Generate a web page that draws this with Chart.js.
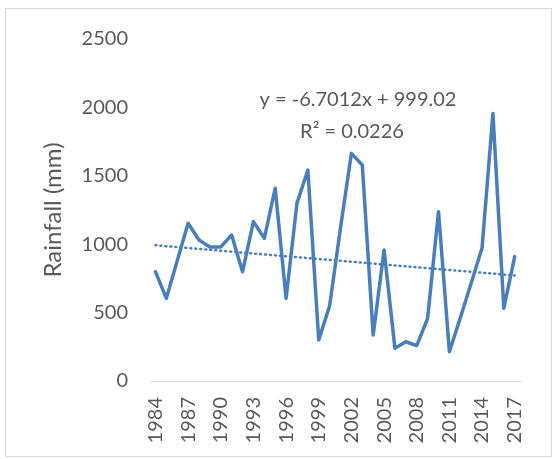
<!DOCTYPE html>
<html lang="en">
<head>
<meta charset="UTF-8">
<title>Rainfall</title>
<script src="https://cdn.jsdelivr.net/npm/chart.js"></script>
<style>
  html, body { margin: 0; padding: 0; background: #fff; }
  #box { width: 555px; height: 459px; }
</style>
</head>
<body>
<div id="box"><canvas id="rainChart" width="555" height="459"></canvas></div>
<script>
// data
const years = [1984, 1985, 1986, 1987, 1988, 1989, 1990, 1991, 1992, 1993, 1994, 1995,
  1996, 1997, 1998, 1999, 2000, 2001, 2002, 2003, 2004, 2005, 2006, 2007, 2008, 2009,
  2010, 2011, 2012, 2013, 2014, 2015, 2016, 2017];
const rainfall = [799, 604, 879, 1153, 1031, 980, 980, 1067, 799, 1165, 1043, 1409,
  604, 1300, 1542, 300, 550, 1120, 1664, 1579, 336, 958, 239, 287, 258, 458,
  1238, 214, 460, 715, 972, 1956, 531, 909];
const shownYears = [1984, 1987, 1990, 1993, 1996, 1999, 2002, 2005, 2008, 2011, 2014, 2017];
const yTicks = [0, 500, 1000, 1500, 2000, 2500];

// linear trend as printed on the chart (x = 1..n)
const trendSlope = -6.7012;
const trendIntercept = 999.02;
const trendText = ['y = -6.7012x + 999.02', 'R\u00B2 = 0.0226'];

const blue = '#4a7ebb';
const grey = '#595959';
const fontName = 'Lato, "Liberation Sans", sans-serif';

// only the two end points of the trend line
const trend = years.map((y, i) =>
  (i === 0 || i === years.length - 1) ? trendSlope * (i + 1) + trendIntercept : null);

// white background, light frame and the equation text
const frame = {
  id: 'frame',
  beforeDraw(chart) {
    const c = chart.ctx;
    c.save();
    c.fillStyle = '#fff';
    c.fillRect(0, 0, chart.width, chart.height);
    c.strokeStyle = '#d9d9d9';
    c.lineWidth = 1;
    c.strokeRect(5.5, 8.5, 546, 448);
    c.restore();
  },
  afterDraw(chart) {
    const c = chart.ctx;
    c.save();
    c.fillStyle = grey;
    c.font = '20px ' + fontName;
    c.textAlign = 'center';
    c.textBaseline = 'middle';
    c.fillText(trendText[0], 358, 100);
    c.fillText(trendText[1], 352, 132);
    c.restore();
  }
};

new Chart(document.getElementById('rainChart'), {
  type: 'line',
  data: {
    labels: years,
    datasets: [{
      data: rainfall,
      borderColor: blue,
      borderWidth: 3.5,
      pointRadius: 0,
      tension: 0,
      borderJoinStyle: 'round',
      borderCapStyle: 'round'
    }, {
      data: trend,
      spanGaps: true,
      borderColor: blue,
      borderWidth: 2.5,
      borderDash: [1, 4],
      borderCapStyle: 'round',
      pointRadius: 0
    }]
  },
  options: {
    responsive: false,
    animation: false,
    layout: { padding: { top: 39, right: 20, left: 0, bottom: 0 } },
    plugins: {
      legend: { display: false },
      tooltip: { enabled: false }
    },
    scales: {
      x: {
        offset: true,
        grid: { display: false, drawTicks: false },
        border: { display: true, color: '#d9d9d9', width: 1 },
        ticks: {
          autoSkip: false,
          maxRotation: 90,
          minRotation: 90,
          padding: 16,
          color: grey,
          font: { family: fontName, size: 20 },
          callback: function (v) {
            const yr = years[v];
            return shownYears.includes(yr) ? String(yr) : '';
          }
        },
        afterFit(scale) { scale.height = 78; }
      },
      y: {
        min: 0,
        max: 2500,
        afterBuildTicks(scale) { scale.ticks = yTicks.map(v => ({ value: v })); },
        grid: { display: false, drawTicks: false },
        border: { display: false },
        ticks: {
          padding: 22,
          color: grey,
          font: { family: fontName, size: 20 },
          callback: v => String(v)
        },
        title: {
          display: true,
          text: 'Rainfall (mm)',
          color: grey,
          padding: { top: 39, bottom: 0 },
          font: { family: fontName, size: 24 }
        },
        afterFit(scale) { scale.width = 150; }
      }
    }
  },
  plugins: [frame]
});
</script>
</body>
</html>
